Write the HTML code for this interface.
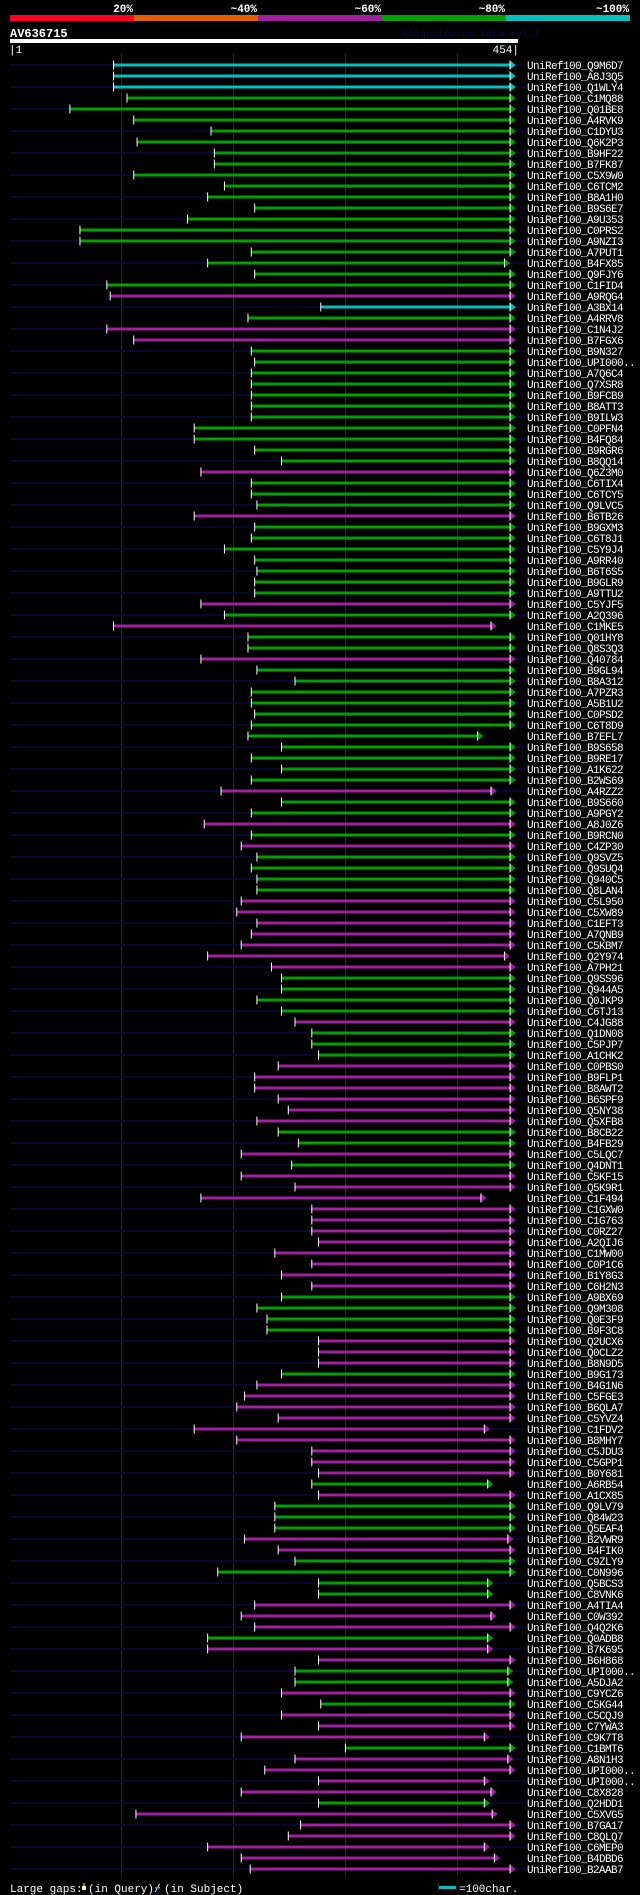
<!DOCTYPE html>
<html><head><meta charset="utf-8">
<style>
html,body{margin:0;padding:0;background:#000;}
body{width:640px;height:1895px;overflow:hidden;}
svg{display:block;}
text{font-family:"Liberation Mono","DejaVu Sans Mono",monospace;}
</style></head>
<body>
<svg id="chart" width="640" height="1895" viewBox="0 0 640 1895" xmlns="http://www.w3.org/2000/svg">
  <rect x="0" y="0" width="640" height="1895" fill="#000"/>
  <g>
    <rect x="10" y="15" width="124" height="6" fill="#ff0022"/>
    <rect x="134" y="15" width="124" height="6" fill="#e06000"/>
    <rect x="258" y="15" width="124" height="6" fill="#a020a0"/>
    <rect x="382" y="15" width="124" height="6" fill="#00a000"/>
    <rect x="506" y="15" width="124" height="6" fill="#00c0c0"/>
    <g fill="#fff" font-size="11" font-weight="bold" text-anchor="end">
      <text x="133" y="12">20%</text>
      <text x="257" y="12">~40%</text>
      <text x="381" y="12">~60%</text>
      <text x="505" y="12">~80%</text>
      <text x="629" y="12">~100%</text>
    </g>
  </g>
  <text x="10" y="37" fill="#fff" font-size="12" font-weight="bold">AV636715</text>
  <text x="402" y="37" fill="#0c0c48" font-size="10">AlignView.pm Beta rel.7</text>
  <rect x="10" y="39" width="508" height="4" fill="#fff"/>
  <text x="9" y="53" fill="#fff" font-size="11">|1</text>
  <text x="519" y="53" fill="#fff" font-size="11" text-anchor="end">454|</text>
  <g id="grid"></g>
  <g id="rows"></g>
  <g font-size="11" fill="#fff">
    <text x="10" y="1892">Large gaps:</text>
    <rect x="82" y="1886" width="4" height="4" fill="#ffff80"/>
    <rect x="83.5" y="1883" width="1" height="3" fill="#ffff80"/>
    <text x="88" y="1892">(in Query)/</text>
    <rect x="155" y="1887" width="5" height="1.5" fill="#00c0c0"/>
    <text x="164" y="1892">(in Subject)</text>
    <rect x="438" y="1883" width="1" height="8" fill="#333"/>
    <rect x="439" y="1886" width="17" height="3" fill="#00c0c0"/>
    <text x="459" y="1892">=100char.</text>
  </g>
</svg>
<script>
const names = ["Q9M6D7","A8J3Q5","Q1WLY4","C1MQ88","Q01BE8","A4RVK9","C1DYU3","Q6K2P3","B9HF22","B7FK87",
"C5X9W0","C6TCM2","B8A1H0","B9S6E7","A9U353","C0PRS2","A9NZI3","A7PUT1","B4FX85","Q9FJY6",
"C1FID4","A9RQG4","A3BX14","A4RRV8","C1N4J2","B7FGX6","B9N327","UPI000..","A7Q6C4","Q7XSR8",
"B9FCB9","B8ATT3","B9ILW3","C0PFN4","B4FQ84","B9RGR6","B8QQ14","Q6Z3M0","C6TIX4","C6TCY5",
"Q9LVC5","B6TB26","B9GXM3","C6T8J1","C5Y9J4","A9RR40","B6T6S5","B9GLR9","A9TTU2","C5YJF5",
"A2Q396","C1MKE5","Q01HY8","Q8S3Q3","Q40784","B9GL94","B8A312","A7PZR3","A5B1U2","C0PSD2",
"C6T8D9","B7EFL7","B9S658","B9RE17","A1K622","B2WS69","A4RZZ2","B9S660","A9PGY2","A8J0Z6",
"B9RCN0","C4ZP30","Q9SVZ5","Q9SUQ4","Q940C5","Q8LAN4","C5L950","C5XW89","C1EFT3","A7QNB9",
"C5KBM7","Q2Y974","A7PH21","Q9SS96","Q944A5","Q0JKP9","C6TJ13","C4JG88","Q1DN08","C5PJP7",
"A1CHK2","C0PBS0","B9FLP1","B8AWT2","B6SPF9","Q5NY38","Q5XFB8","B8CB22","B4FB29","C5LQC7",
"Q4DNT1","C5KF15","Q5K9R1","C1F494","C1GXW0","C1G763","C0RZ27","A2QIJ6","C1MW00","C0P1C6",
"B1Y8G3","C6H2N3","A9BX69","Q9M308","Q0E3F9","B9F3C8","Q2UCX6","Q0CLZ2","B8N9D5","B9G173",
"B4G1N6","C5FGE3","B6QLA7","C5YVZ4","C1FDV2","B8MHY7","C5JDU3","C5GPP1","B0Y681","A6RB54",
"A1CX85","Q9LV79","Q84W23","Q5EAF4","B2VWR9","B4FIK0","C9ZLY9","C0N996","Q5BCS3","C8VNK6",
"A4TIA4","C0W392","Q4Q2K6","Q0ADB8","B7K695","B6H868","UPI000..","A5DJA2","C9YCZ6","C5KG44",
"C5CQJ9","C7YWA3","C9K7T8","C1BMT6","A8N1H3","UPI000..","UPI000..","C8X828","Q2HDD1","C5XVG5",
"B7GA17","C8QLQ7","C6MEP0","B4DBD6","B2AAB7"];
const starts = [93,93,93,105,54,111,180,114,183,183,
111,192,177,219,159,63,63,216,177,219,
87,90,278,213,87,111,216,219,216,216,
216,216,216,165,165,219,243,171,216,216,
221,165,219,216,192,219,221,219,219,171,
192,93,213,213,171,221,255,216,216,219,
216,213,243,216,243,216,189,243,216,174,
216,207,221,216,221,221,207,203,221,216,
207,177,234,243,243,221,243,255,270,270,
276,240,219,219,240,249,221,240,258,207,
252,207,255,171,270,270,270,276,237,270,
243,270,243,221,230,230,276,276,276,243,
221,210,203,240,165,203,270,270,276,270,
276,237,237,237,210,240,255,186,276,276,
219,207,219,177,177,276,255,255,243,278,
243,276,207,300,255,228,276,207,276,113,
260,249,177,207,215];
const ends = [447,447,447,447,447,447,447,447,447,447,
447,447,447,447,447,447,447,447,442,447,
447,447,447,447,447,447,447,447,447,447,
447,447,447,447,447,447,447,447,447,447,
447,447,447,447,447,447,447,447,447,447,
447,430,447,447,447,447,447,447,447,447,
447,418,447,447,447,447,430,447,447,447,
447,447,447,447,447,447,447,447,447,447,
447,442,447,447,447,447,447,447,447,447,
447,447,447,447,447,447,447,447,447,447,
447,447,447,421,447,447,447,447,447,447,
447,447,447,447,447,447,447,447,447,447,
447,447,447,447,424,447,447,447,447,427,
447,447,447,447,445,447,447,447,427,427,
447,430,447,427,427,447,445,445,447,447,
447,447,424,447,445,447,424,430,424,431,
447,447,424,433,447];
const identity = [
"cccggggggg","gggggggggg","gmcgmmgggg","gggggggmgg","gmgggggggm",
"gmggmggggg","ggggggmggm","gmggggmmmm","mmmggggmgg","gmmmmmmggm",
"gmmmmmmmmm","mmggggmmmg","mmmmmmmmmg","mgggmmgggg","mmmgmmggmg",
"mmmgmmmmgm","mmmmm"].join("");
const gridTicks = [100,200,300,400];

const colorMap = {c:"#00c0c0", g:"#00a000", m:"#a020a0"};
const NS = "http://www.w3.org/2000/svg";
function xScale(q){ return 9.4 + 1.12*q; }
function yRow(i){ return 65 + 11*i; }
function mk(tag, attrs, parent){
  const el = document.createElementNS(NS, tag);
  for (const k in attrs) el.setAttribute(k, attrs[k]);
  parent.appendChild(el);
  return el;
}
const grid = document.getElementById('grid');
gridTicks.forEach(function(t){
  const gl = mk('rect', {x: Math.round(xScale(t)), y: 53, width: 1, height: 1823, fill: '#2e2e08'}, grid);
  
  
});
const rows = document.getElementById('rows');
names.forEach(function(n, i){
  const y = yRow(i);
  const g = mk('g', {}, rows);
  
  
  if (i % 2 === 0) {
    const bg = mk('rect', {x: 10, y: y - 1, width: 516, height: 2, fill: '#07072e'}, g);
    
    
  }
  const col = colorMap[identity[i]] || '#a020a0';
  const x0 = xScale(starts[i]), x1 = xScale(ends[i]);
  const bar = mk('rect', {x: x0, y: y - 1.5, width: Math.max(0, x1 - x0), height: 3, fill: col}, g);
  
  
  const st = mk('rect', {x: x0 - 0.5, y: y - 4.5, width: 1, height: 9, fill: '#fff'}, g);
  
  
  const ar = mk('polygon', {points: x1 + ',' + (y - 4.5) + ' ' + (x1 + 5.5) + ',' + y + ' ' + x1 + ',' + (y + 4.5), fill: col}, g);
  
  
  const ae = mk('rect', {x: x1 - 0.5, y: y - 4.5, width: 1, height: 9, fill: '#fff'}, g);
  
  
  const t = mk('text', {x: 527, y: y + 4, fill: '#fff', 'font-size': 11, 'letter-spacing': '-0.6'}, g);
  t.textContent = 'UniRef100_' + n;
  
  
});
</script>
</body></html>
